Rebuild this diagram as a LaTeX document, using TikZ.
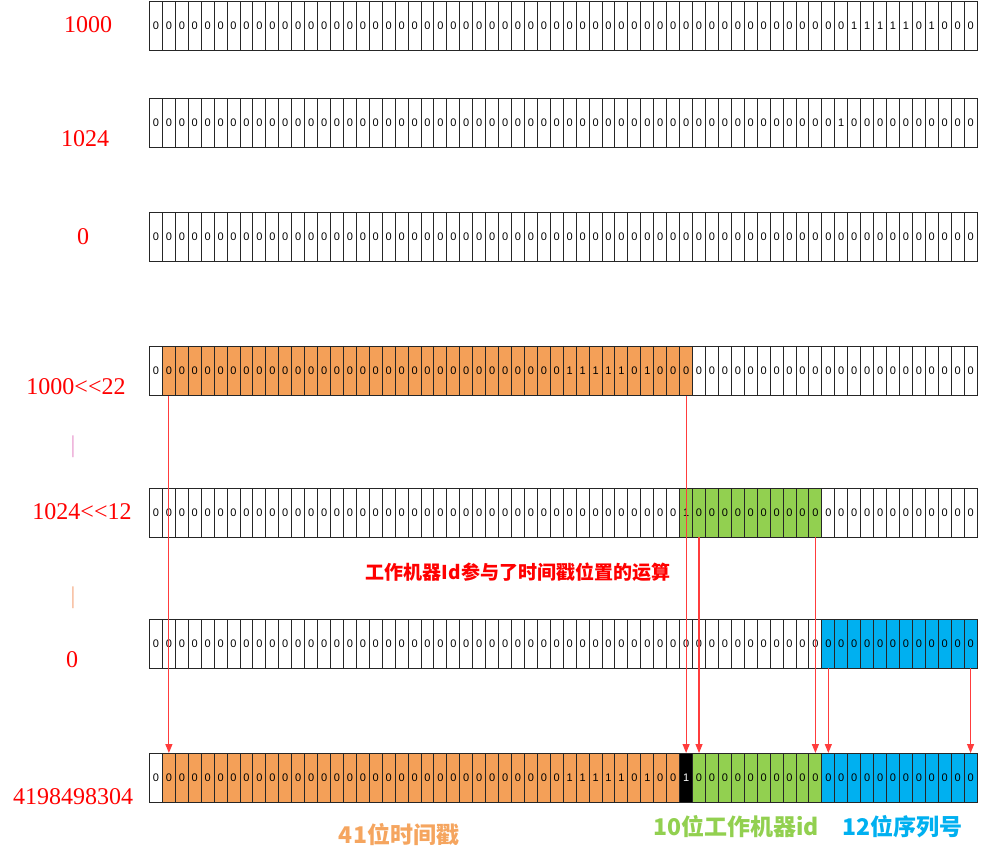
\documentclass[tikz,border=0pt]{standalone}
\usepackage{fontspec}
\setmainfont{Liberation Serif}
\newfontfamily\cjk{Noto Sans CJK SC}
\newfontfamily\bitfont{Liberation Sans}
\usetikzlibrary{arrows.meta}

\definecolor{tsorange}{RGB}{244,160,88}
\definecolor{tslabel}{RGB}{245,165,95}
\definecolor{wkgreen}{RGB}{146,208,80}
\definecolor{sqblue}{RGB}{0,176,240}
\definecolor{linered}{RGB}{255,60,60}
\definecolor{barpink}{RGB}{232,150,205}
\definecolor{barorange}{RGB}{245,170,130}

\tikzset{
    cell/.style={draw=black!85, line width=0.5pt, minimum width=6.47pt, minimum height=24.5pt,
        inner sep=0pt, outer sep=0pt, font=\bitfont\fontsize{5.5}{6}\selectfont},
    num/.style={text=red, font=\fontsize{12}{14}\selectfont},
    bitlabel/.style={font=\cjk\bfseries\fontsize{11.5}{13}\selectfont},
    link/.style={linered, line width=0.6pt, -{Triangle[length=4.5pt,width=3.5pt]}}
}

\newcommand{\bitrow}[4]{%
    \foreach \i in {0,...,63}{%
        \gdef\bitval{0}\gdef\bitfill{white}\gdef\bittext{black}%
        \foreach \one in {#3}{\ifnum\one=\i\relax\gdef\bitval{1}\fi}%
        \foreach \lo/\hi/\fc/\tc in {#4}{%
            \ifnum\i<\lo\relax\else\ifnum\i>\hi\relax\else
                \xdef\bitfill{\fc}\xdef\bittext{\tc}\fi\fi}%
        \node[cell, fill=\bitfill, text=\bittext] at ({149.5+12.93*(\i+0.5)}, #2)(#1c\i){\bitval};
    }%
}

\begin{document}
\begin{tikzpicture}[x=0.5pt, y=-0.5pt]
    \useasboundingbox (0, 0) rectangle (983, 862);

    \bitrow{r1}{26}{54,55,56,57,58,60}{-1/-1/white/black}
    \bitrow{r2}{123}{53}{-1/-1/white/black}
    \bitrow{r3}{237}{-1}{-1/-1/white/black}
    \bitrow{r4}{371}{32,33,34,35,36,38}{1/41/tsorange/black}
    \bitrow{r5}{512.5}{41}{41/51/wkgreen/black}
    \bitrow{r6}{643.5}{-1}{52/63/sqblue/black}
    \bitrow{r7}{777.5}{32,33,34,35,36,38,41}{1/40/tsorange/black, 41/41/black/white, 42/51/wkgreen/black, 52/63/sqblue/black}

    \node[num] at (88, 25)(l1000){1000};
    \node[num] at (85, 139)(l1024){1024};
    \node[num] at (83, 237)(lzero){0};
    \node[num] at (76, 387)(lshift22){1000<{}<22};
    \node[num] at (82, 512)(lshift12){1024<{}<12};
    \node[num] at (72, 660)(lzerob){0};
    \node[num] at (73, 797)(lresult){4198498304};
    \node[text=barpink, font=\fontsize{12}{14}\selectfont] at (73, 447)(orA){|};
    \node[text=barorange, font=\fontsize{12}{14}\selectfont] at (73, 598)(orB){|};

    \node[text=red, font=\cjk\bfseries\fontsize{9.5}{11}\selectfont] at (518, 572)(note){工作机器Id参与了时间戳位置的运算};

    \node[bitlabel, text=tslabel] at (399, 835)(tslab){41位时间戳};
    \node[bitlabel, text=wkgreen] at (736, 827)(wklab){10位工作机器id};
    \node[bitlabel, text=sqblue] at (902, 827)(sqlab){12位序列号};

    \path[link]
        (r4c1.south) edge (r7c1.north)
        (r4c41.south) edge (r7c41.north)
        (r5c42.south) edge (r7c42.north)
        (r5c51.south) edge (r7c51.north)
        (r6c52.south) edge (r7c52.north)
        (r6c63.south) edge (r7c63.north)
        ;
\end{tikzpicture}
\end{document}
